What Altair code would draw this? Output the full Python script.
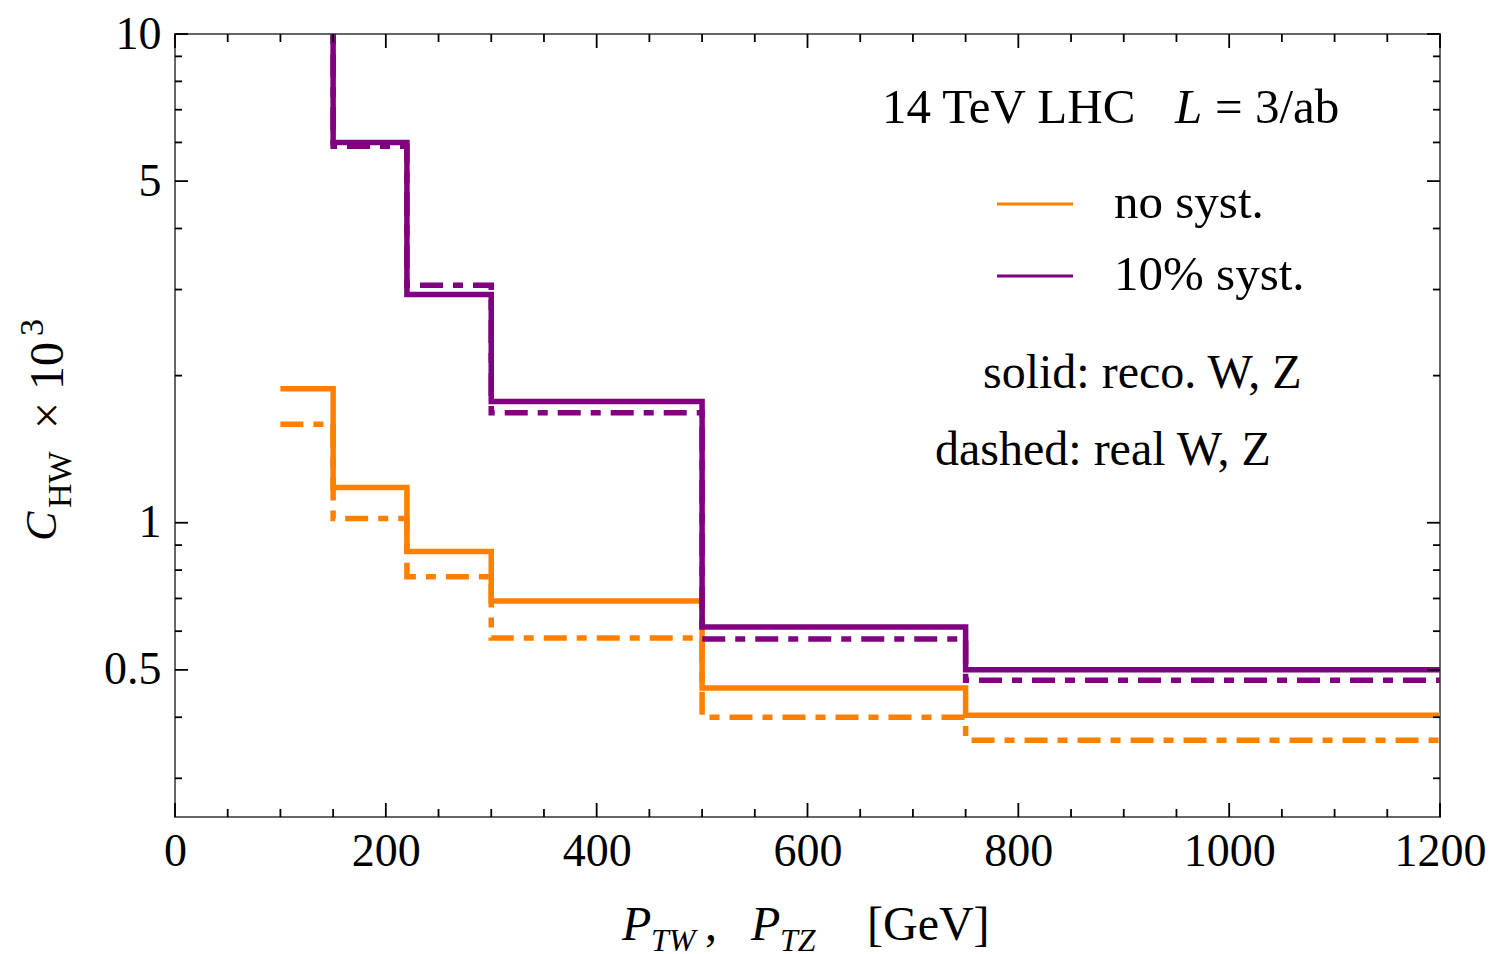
import altair as alt
import pandas as pd

# ---------------- data ----------------
edges = [100, 150, 220, 300, 500, 750, 1200]
orange_solid = [1.88, 1.18, 0.873, 0.692, 0.459, 0.404]
orange_dashed = [1.59, 1.02, 0.775, 0.581, 0.400, 0.359]
purple_solid = [15.0, 6.0, 2.93, 1.77, 0.612, 0.500]
purple_dashed = [15.0, 5.89, 3.06, 1.68, 0.578, 0.476]

x_major = [0, 200, 400, 600, 800, 1000, 1200]
x_minor = [50, 100, 150, 250, 300, 350, 450, 500, 550, 650, 700, 750,
           850, 900, 950, 1050, 1100, 1150]
y_major = [0.5, 1, 5, 10]
y_minor = [0.3, 0.4, 0.6, 0.7, 0.8, 0.9, 2, 3, 4, 6, 7, 8, 9]

ORANGE = "#FF8000"
PURPLE = "#800080"
FONT = "Liberation Serif"
W, H = 1265, 783


def steps(vals, name):
    ys = list(vals) + [vals[-1]]
    return pd.DataFrame({"x": edges, "y": ys, "s": name})


df_solid = pd.concat([steps(orange_solid, "no syst."), steps(purple_solid, "10% syst.")])
df_dash = pd.concat([steps(orange_dashed, "no syst."), steps(purple_dashed, "10% syst.")])

xs = alt.Scale(domain=[0, 1200], nice=False, zero=False)
ys = alt.Scale(type="log", domain=[0.25, 10], nice=False)
cs = alt.Scale(domain=["no syst.", "10% syst."], range=[ORANGE, PURPLE])

xaxis = alt.Axis(values=x_major, ticks=False, domain=False, grid=False, format="d",
                 labelFont=FONT, labelFontSize=46, labelColor="black", labelPadding=12,
                 title=None, labelFlush=False, labelOverlap=False)
yaxis = alt.Axis(values=y_major, ticks=False, domain=False, grid=False, format="~g",
                 labelFont=FONT, labelFontSize=46, labelColor="black", labelPadding=14,
                 title=None, labelOverlap=False)

X = lambda f="x": alt.X(f"{f}:Q", scale=xs, axis=xaxis)
Y = lambda f="y": alt.Y(f"{f}:Q", scale=ys, axis=yaxis)

solid = alt.Chart(df_solid).mark_line(interpolate="step-after", strokeWidth=5.5, clip=True).encode(
    x=X(), y=Y(),
    color=alt.Color("s:N", scale=cs, legend=None),
)
dashed = alt.Chart(df_dash).mark_line(interpolate="step-after", strokeWidth=5.5, clip=True,
                                      strokeDash=[23, 10, 10, 10]).encode(
    x=X(), y=Y(),
    color=alt.Color("s:N", scale=cs, legend=None),
)


def xticks(vals, length):
    d = pd.DataFrame({"x": vals})
    b = alt.Chart(d).mark_rule(color="black", strokeWidth=1.8).encode(
        x=X(), y=alt.value(H), y2=alt.value(H - length))
    t = alt.Chart(d).mark_rule(color="black", strokeWidth=1.8).encode(
        x=X(), y=alt.value(0), y2=alt.value(length))
    return [b, t]


def yticks(vals, length):
    d = pd.DataFrame({"y": vals})
    l = alt.Chart(d).mark_rule(color="black", strokeWidth=1.8).encode(
        y=Y(), x=alt.value(0), x2=alt.value(length))
    r = alt.Chart(d).mark_rule(color="black", strokeWidth=1.8).encode(
        y=Y(), x=alt.value(W), x2=alt.value(W - length))
    return [l, r]


def txt(s, x, y, size=48, italic=False, angle=0):
    kw = dict(font=FONT, fontSize=size, align="left", baseline="alphabetic", color="black")
    if italic:
        kw["fontStyle"] = "italic"
    if angle:
        kw["angle"] = angle
    return alt.Chart(pd.DataFrame({"t": [s]})).mark_text(**kw).encode(
        text="t:N", x=alt.value(x), y=alt.value(y))


def legline(color, y):
    return alt.Chart(pd.DataFrame({"s": [0]})).mark_rule(color=color, strokeWidth=3).encode(
        x=alt.value(822), x2=alt.value(898), y=alt.value(y))


layers = [solid, dashed]
layers += xticks(x_major, 14) + xticks(x_minor, 8)
layers += yticks(y_major, 13) + yticks(y_minor, 7)
layers += [
    txt("14 TeV LHC", 707, 89, 49),
    txt("L", 1000, 89, 49, italic=True),
    txt("= 3/ab", 1040, 89, 49),
    legline(ORANGE, 170),
    legline(PURPLE, 242),
    txt("no syst.", 939, 184, 49),
    txt("10% syst.", 939, 256, 49),
    txt("solid: reco. W, Z", 808, 354, 48),
    txt("dashed: real W, Z", 760, 431, 48),
    # y-axis title
    txt("C", -119, 507, 44, italic=True, angle=270),
    txt("HW", -104, 474, 34, angle=270),
    txt("× 10", -112, 395, 48, angle=270),
    txt("3", -132, 302, 34, angle=270),
    # x-axis title
    txt("P", 447, 906, 48, italic=True),
    txt("TW", 476, 917, 32, italic=True),
    txt(",", 530, 906, 48),
    txt("P", 576, 906, 48, italic=True),
    txt("TZ", 605, 917, 32, italic=True),
    txt("[GeV]", 692, 906, 48),
]

chart = alt.layer(*layers).properties(
    width=W, height=H,
    autosize=alt.AutoSizeParams(type="none"),
    padding={"left": 175, "top": 34, "right": 52, "bottom": 137},
    background="white",
).configure_view(stroke="#666666", strokeWidth=2)

chart.save("out.html", embed_options={"renderer": "svg", "actions": False})
